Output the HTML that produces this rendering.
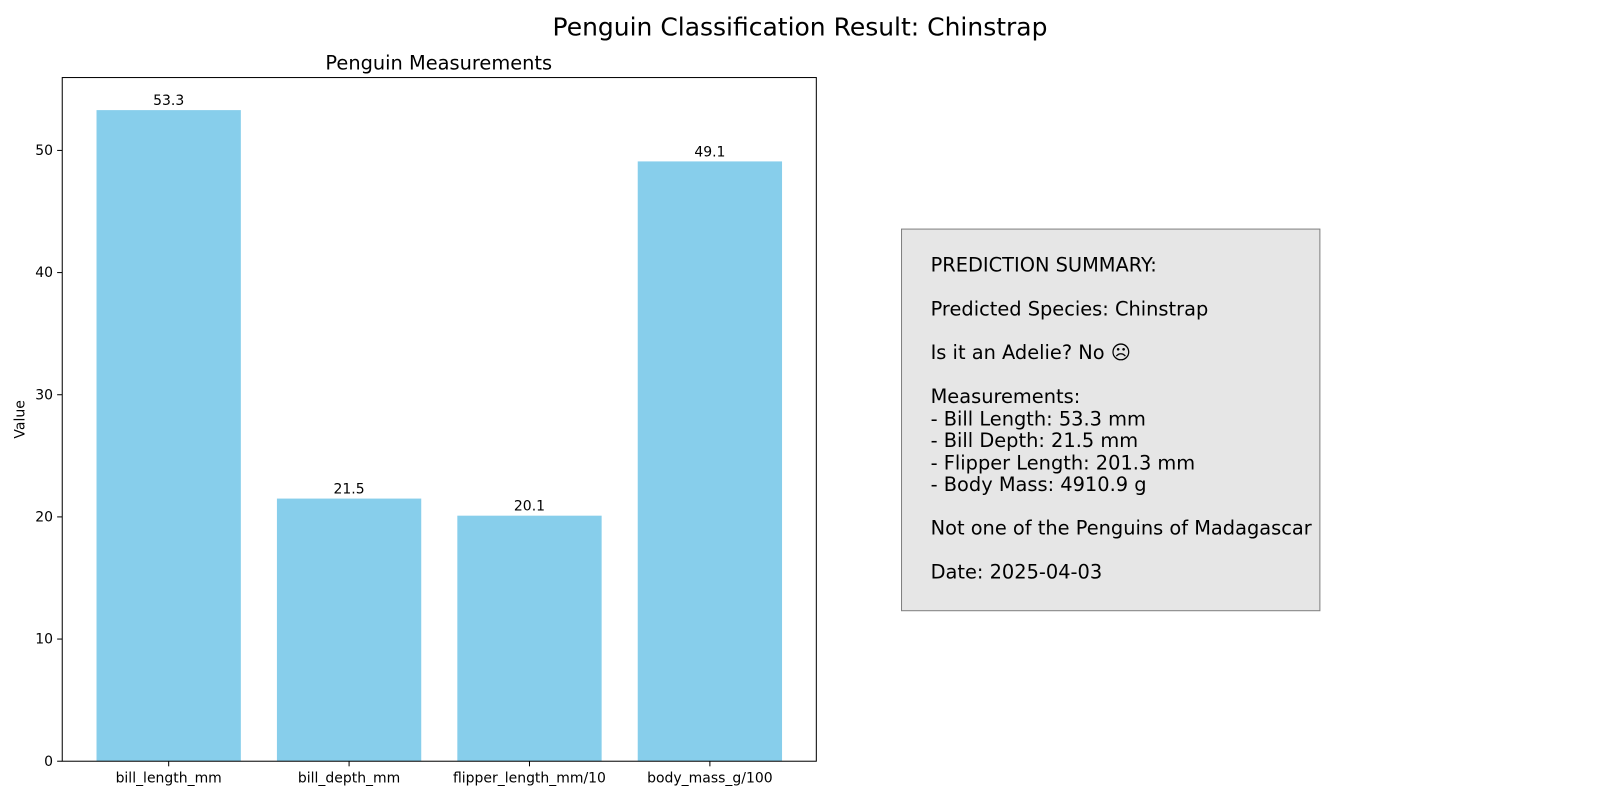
<!DOCTYPE html>
<html><head><meta charset="utf-8"><style>
html,body{margin:0;padding:0;width:1600px;height:800px;overflow:hidden;background:#fff;font-family:"DejaVu Sans","Liberation Sans",sans-serif;}
svg{display:block;}
svg text{font-family:"DejaVu Sans","Liberation Sans",sans-serif;}
</style></head><body>
<svg id="chart" width="1600" height="800" xmlns="http://www.w3.org/2000/svg">
<rect width="1600" height="800" fill="#fff"/>
<g transform="scale(1.0204)">
<text x="784" y="35" font-size="24.5" text-anchor="middle">Penguin Classification Result: Chinstrap</text>
<text x="430" y="68" font-size="19" text-anchor="middle">Penguin Measurements</text>
<g id="plot"></g>
<rect x="61" y="76" width="739" height="670" fill="none" stroke="#000" stroke-width="1"/>
<text transform="translate(24,411) rotate(-90)" font-size="13.7" text-anchor="middle">Value</text>
<g>
<rect x="883.5" y="224.5" width="410" height="374" fill="#e6e6e6" stroke="#808080" stroke-width="1"/>
<g font-size="19" fill="#000">
<text x="912" y="266">PREDICTION SUMMARY:</text>
<text x="912" y="309">Predicted Species: Chinstrap</text>
<text x="912" y="352">Is it an Adelie? No ☹</text>
<text x="912" y="395">Measurements:</text>
<text x="912" y="417">- Bill Length: 53.3 mm</text>
<text x="912" y="438">- Bill Depth: 21.5 mm</text>
<text x="912" y="460">- Flipper Length: 201.3 mm</text>
<text x="912" y="481">- Body Mass: 4910.9 g</text>
<text x="912" y="524">Not one of the Penguins of Madagascar</text>
<text x="912" y="567">Date: 2025-04-03</text>
</g></g>
</g>
</svg>
<script>
const categories=["bill_length_mm","bill_depth_mm","flipper_length_mm/10","body_mass_g/100"];
const values=[53.3,21.5,20.1,49.1];
const labels=["53.3","21.5","20.1","49.1"];
const yTicks=[0,10,20,30,40,50];
const NS="http://www.w3.org/2000/svg";
const g=document.getElementById('plot');
const L=61,R=800,T=76,B=746;
const ymax=Math.max(...values)*1.05;
const y=v=>B-(v/ymax)*(B-T);
const xmin=-0.59,xmax=categories.length-1+0.59;
const x=i=>L+(i-xmin)/(xmax-xmin)*(R-L);
const bw=0.8*(R-L)/(xmax-xmin);
function el(t,a){const e=document.createElementNS(NS,t);for(const k in a)e.setAttribute(k,a[k]);g.appendChild(e);return e;}
values.forEach((v,i)=>{
 const r=el('rect',{x:x(i)-bw/2,y:y(v),width:bw,height:B-y(v),fill:'#87ceeb'});
 
 
 const t=el('text',{x:x(i),y:y(v)-5,'font-size':13.7,'text-anchor':'middle'});t.textContent=labels[i];
 
 
 el('line',{x1:x(i),x2:x(i),y1:B,y2:B+5,stroke:'#000'});
 const c=el('text',{x:x(i),y:B+21,'font-size':13.7,'text-anchor':'middle'});c.textContent=categories[i];
 
 
});
yTicks.forEach(v=>{
 el('line',{x1:L-5,x2:L,y1:y(v),y2:y(v),stroke:'#000'});
 const t=el('text',{x:L-9,y:y(v)+4.5,'font-size':13.7,'text-anchor':'end'});t.textContent=v;
 
 
});
</script>
</body></html>
